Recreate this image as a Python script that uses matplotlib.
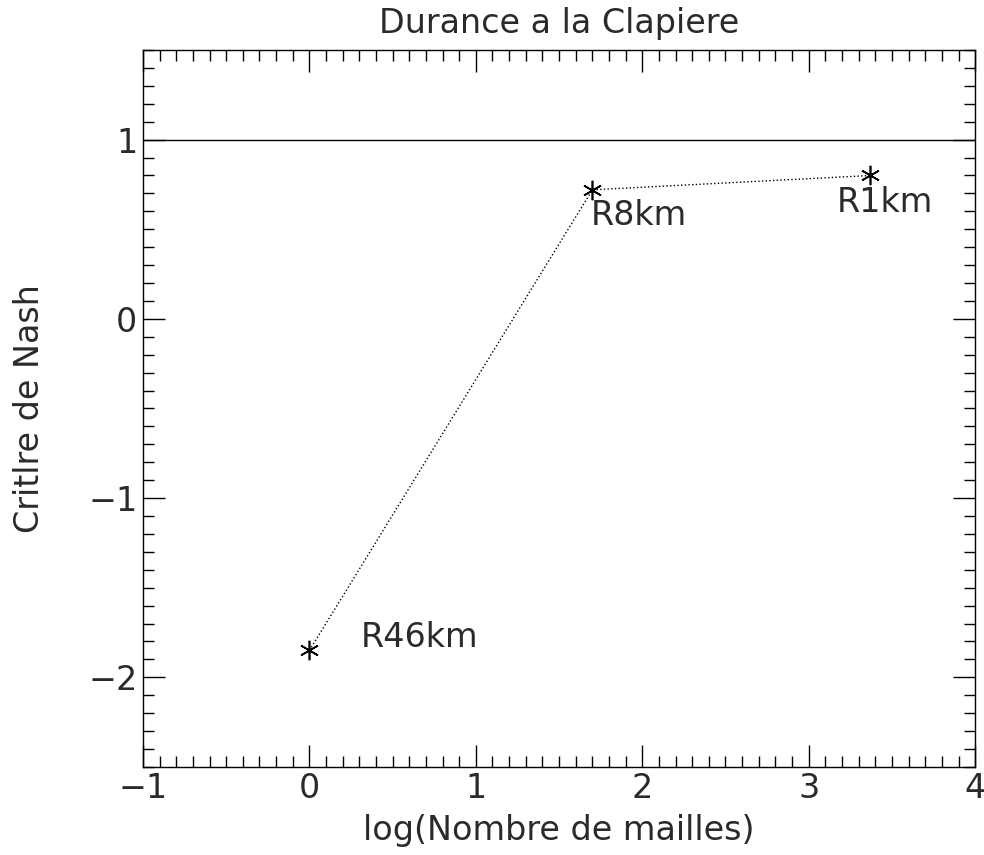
import matplotlib
matplotlib.use("Agg")
import matplotlib.pyplot as plt
from matplotlib.ticker import MultipleLocator

# log(nombre de mailles) vs critere de Nash
log_mailles = [0.0, 1.70, 3.37]
nash = [-1.85, 0.72, 0.80]
noms = ["R46km", "R8km", "R1km"]
label_pos = [(0.31, -1.78), (1.69, 0.575), (3.17, 0.65)]

plt.rcParams['font.family'] = ['DejaVu Sans']
fs = 24
tc = '#2a2a2a'

fig = plt.figure(figsize=(9.84, 8.55), dpi=100)
ax = fig.add_axes([0.1453, 0.103, 0.8457, 0.8385])

ax.axhline(1.0, color='black', lw=1.0)
ax.plot(log_mailles, nash, ls=':', color='black', lw=1.0)
ax.plot(log_mailles, nash, ls='none', marker=(6, 2, 0), ms=14, mew=1.2, color='black')
for (tx, ty), n in zip(label_pos, noms):
    ax.text(tx, ty, n, fontsize=fs, ha='left', va='center', color=tc)

ax.set_xlim(-1, 4)
ax.set_ylim(-2.5, 1.5)
ax.xaxis.set_major_locator(MultipleLocator(1))
ax.xaxis.set_minor_locator(MultipleLocator(0.1))
ax.yaxis.set_major_locator(MultipleLocator(1))
ax.yaxis.set_minor_locator(MultipleLocator(0.1))
ax.tick_params(which='both', direction='in', top=True, right=True, labelsize=fs, colors='black', labelcolor=tc)
ax.tick_params(which='major', length=16, width=1.0)
ax.tick_params(axis='x', which='major', pad=4)
ax.tick_params(axis='y', which='major', pad=4)
ax.tick_params(which='minor', length=8, width=1.0)
for s in ax.spines.values():
    s.set_linewidth(1.0)

ax.set_title("Durance a la Clapiere", fontsize=fs, pad=12, color=tc)
ax.set_xlabel("log(Nombre de mailles)", fontsize=fs, labelpad=6, color=tc)
ax.set_ylabel("Critlre de Nash", fontsize=fs, labelpad=30, color=tc)

fig.savefig("out.png", dpi=100)
